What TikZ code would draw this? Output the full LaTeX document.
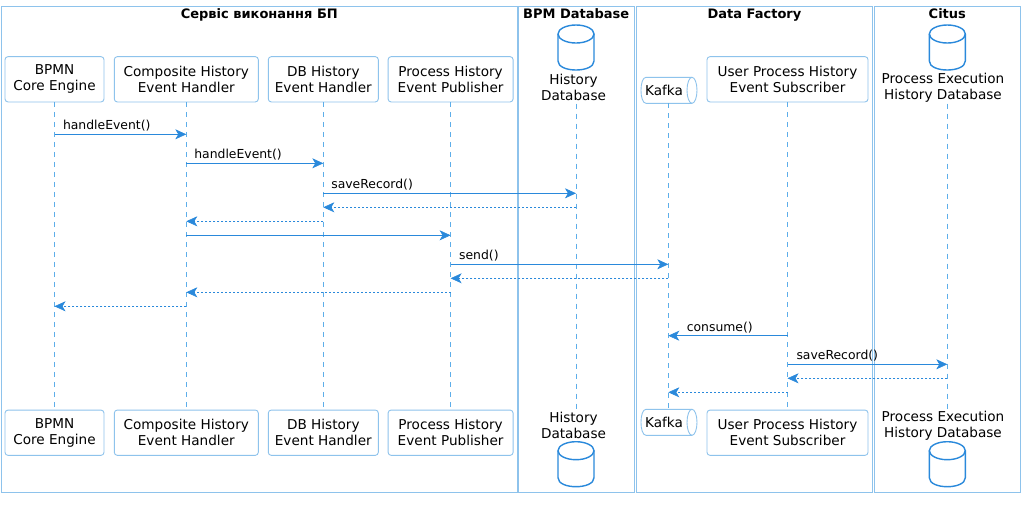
\documentclass[tikz,border=0pt]{standalone}
\usepackage{fontspec}
\setmainfont{DejaVu Sans}
\usetikzlibrary{arrows.meta}
\definecolor{arrowc}{HTML}{2A89DB}
\definecolor{framec}{HTML}{8EC3EC}
\definecolor{lifec}{HTML}{5DAEEA}
\newcommand\mydbicon[3]{%
  \coordinate (#3) at (#1,{#2+22});
  \draw[dbline] ({#1-18},{#2+9}) -- ({#1-18},{#2+36}) .. controls ({#1-18},{#2+48}) and ({#1+18},{#2+48}) .. ({#1+18},{#2+36}) -- ({#1+18},{#2+9});
  \draw[dbline] (#1,{#2+9}) ellipse[x radius=18, y radius=9];
}
\newcommand\myqueue[2]{%
  \draw[queue] (692,{#1-13}) -- (646,{#1-13}) .. controls (639.3,{#1-13}) and (639.3,{#1+13}) .. (646,{#1+13}) -- (692,{#1+13});
  \draw[queue] (692,#1) ellipse[x radius=5, y radius=13];
  \node[dblabel] (#2) at (664,#1) {Kafka};
}
\begin{document}
\begin{tikzpicture}[x=1pt,y=-1pt,
  frame/.style={draw=framec,line width=1pt},
  ttl/.style={font=\fontsize{13}{15}\bfseries\selectfont, anchor=base, inner sep=0pt},
  part/.style={draw=framec,line width=0.9pt,rounded corners=3pt,align=center,inner sep=0pt,minimum height=45.3pt,font=\fontsize{13.6}{16.3}\selectfont},
  dblabel/.style={align=center,inner sep=0pt,font=\fontsize{13.6}{16.3}\selectfont},
  life/.style={draw=lifec,line width=0.9pt,dash pattern=on 5pt off 5pt},
  msg/.style={draw=arrowc,line width=1pt,-{Stealth[length=11pt,width=10pt,inset=3pt,fill=arrowc,line width=0.6pt]}},
  ret/.style={msg,dash pattern=on 2pt off 2pt},
  lbl/.style={anchor=base west,inner sep=0pt,font=\fontsize{12.4}{14}\selectfont},
  dbline/.style={draw=arrowc,line width=1.4pt},
  queue/.style={draw=framec,line width=0.9pt}]
\useasboundingbox[fill=white] (0,0) rectangle (1025,504);

% frames
\draw[frame] (1.5,6) rectangle (517,492);
\draw[frame] (518.5,6) rectangle (634,492);
\draw[frame] (636,6) rectangle (872,492);
\draw[frame] (874,6) rectangle (1020,492);
\node[ttl] (t1) at (259.3,18.7) {Сервіс виконання БП};
\node[ttl] (t2) at (576.2,18.7) {BPM Database};
\node[ttl] (t3) at (754.5,18.7) {Data Factory};
\node[ttl] (t4) at (947.3,18.7) {Citus};

% top participants
\node[part,minimum width=99pt] (bpmnT) at (54.5,79.3) {BPMN\\Core Engine};
\node[part,minimum width=144pt] (compT) at (186.3,79.3) {Composite History\\Event Handler};
\node[part,minimum width=110pt] (dbhT) at (323.3,79.3) {DB History\\Event Handler};
\node[part,minimum width=125pt] (pubT) at (450.6,79.3) {Process History\\Event Publisher};
\node[part,minimum width=161pt] (subT) at (787.5,79.3) {User Process History\\Event Subscriber};
\mydbicon{576}{25}{hdbIconT}
\node[dblabel] (hdbLT) at (573.5,87.5) {History\\Database};
\mydbicon{947.3}{25}{citIconT}
\node[dblabel] (citLT) at (943,87.5) {Process Execution\\History Database};
\myqueue{90.3}{kafLT}

% bottom participants
\node[part,minimum width=99pt] (bpmnB) at (54.5,432.7) {BPMN\\Core Engine};
\node[part,minimum width=144pt] (compB) at (186.3,432.7) {Composite History\\Event Handler};
\node[part,minimum width=110pt] (dbhB) at (323.3,432.7) {DB History\\Event Handler};
\node[part,minimum width=125pt] (pubB) at (450.6,432.7) {Process History\\Event Publisher};
\node[part,minimum width=161pt] (subB) at (787.5,432.7) {User Process History\\Event Subscriber};
\node[dblabel] (hdbLB) at (573.5,425.7) {History\\Database};
\mydbicon{576}{441.7}{hdbIconB}
\node[dblabel] (citLB) at (943,425.7) {Process Execution\\History Database};
\mydbicon{947.3}{441.7}{citIconB}
\myqueue{422.3}{kafLB}

% lifeline ends
\coordinate (hdbT) at (576,103.5);
\coordinate (hdbB) at (576,409);
\coordinate (kafT) at (668.3,103.3);
\coordinate (kafB) at (668.3,409.3);
\coordinate (citT) at (947.3,103.5);
\coordinate (citB) at (947.3,409);

\draw[life] (bpmnT.south) -- (bpmnB.north);
\draw[life] (compT.south) -- (compB.north);
\draw[life] (dbhT.south) -- (dbhB.north);
\draw[life] (pubT.south) -- (pubB.north);
\draw[life] (hdbT) -- (hdbB);
\draw[life] (kafT) -- (kafB);
\draw[life] (subT.south) -- (subB.north);
\draw[life] (citT) -- (citB);

% message rows
\coordinate (r1) at (0,134.3);
\coordinate (r2) at (0,163.3);
\coordinate (r3) at (0,193.3);
\coordinate (r4) at (0,207.3);
\coordinate (r5) at (0,221.3);
\coordinate (r6) at (0,235.3);
\coordinate (r7) at (0,264.3);
\coordinate (r8) at (0,278.3);
\coordinate (r9) at (0,292.3);
\coordinate (r10) at (0,306.3);
\coordinate (r11) at (0,335.7);
\coordinate (r12) at (0,364.3);
\coordinate (r13) at (0,378.3);
\coordinate (r14) at (0,392.3);

\draw[msg] (bpmnT |- r1) -- (compT |- r1) node[lbl,pos=0,xshift=8pt,yshift=4.5pt] {handleEvent()};
\draw[msg] (compT |- r2) -- (dbhT |- r2) node[lbl,pos=0,xshift=7.5pt,yshift=4.5pt] {handleEvent()};
\draw[msg] (dbhT |- r3) -- (hdbT |- r3) node[lbl,pos=0,xshift=7.5pt,yshift=4.5pt] {saveRecord()};
\draw[ret] (hdbT |- r4) -- (dbhT |- r4);
\draw[ret] (dbhT |- r5) -- (compT |- r5);
\draw[msg] (compT |- r6) -- (pubT |- r6);
\draw[msg] (pubT |- r7) -- (kafT |- r7) node[lbl,pos=0,xshift=8pt,yshift=4.5pt] {send()};
\draw[ret] (kafT |- r8) -- (pubT |- r8);
\draw[ret] (pubT |- r9) -- (compT |- r9);
\draw[ret] (compT |- r10) -- (bpmnT |- r10);
\draw[msg] (subT |- r11) -- (kafT |- r11) node[lbl,pos=1,xshift=18pt,yshift=4.5pt] {consume()};
\draw[msg] (subT |- r12) -- (citT |- r12) node[lbl,pos=0,xshift=8.5pt,yshift=4.5pt] {saveRecord()};
\draw[ret] (citT |- r13) -- (subT |- r13);
\draw[ret] (subT |- r14) -- (kafT |- r14);
\end{tikzpicture}
\end{document}
